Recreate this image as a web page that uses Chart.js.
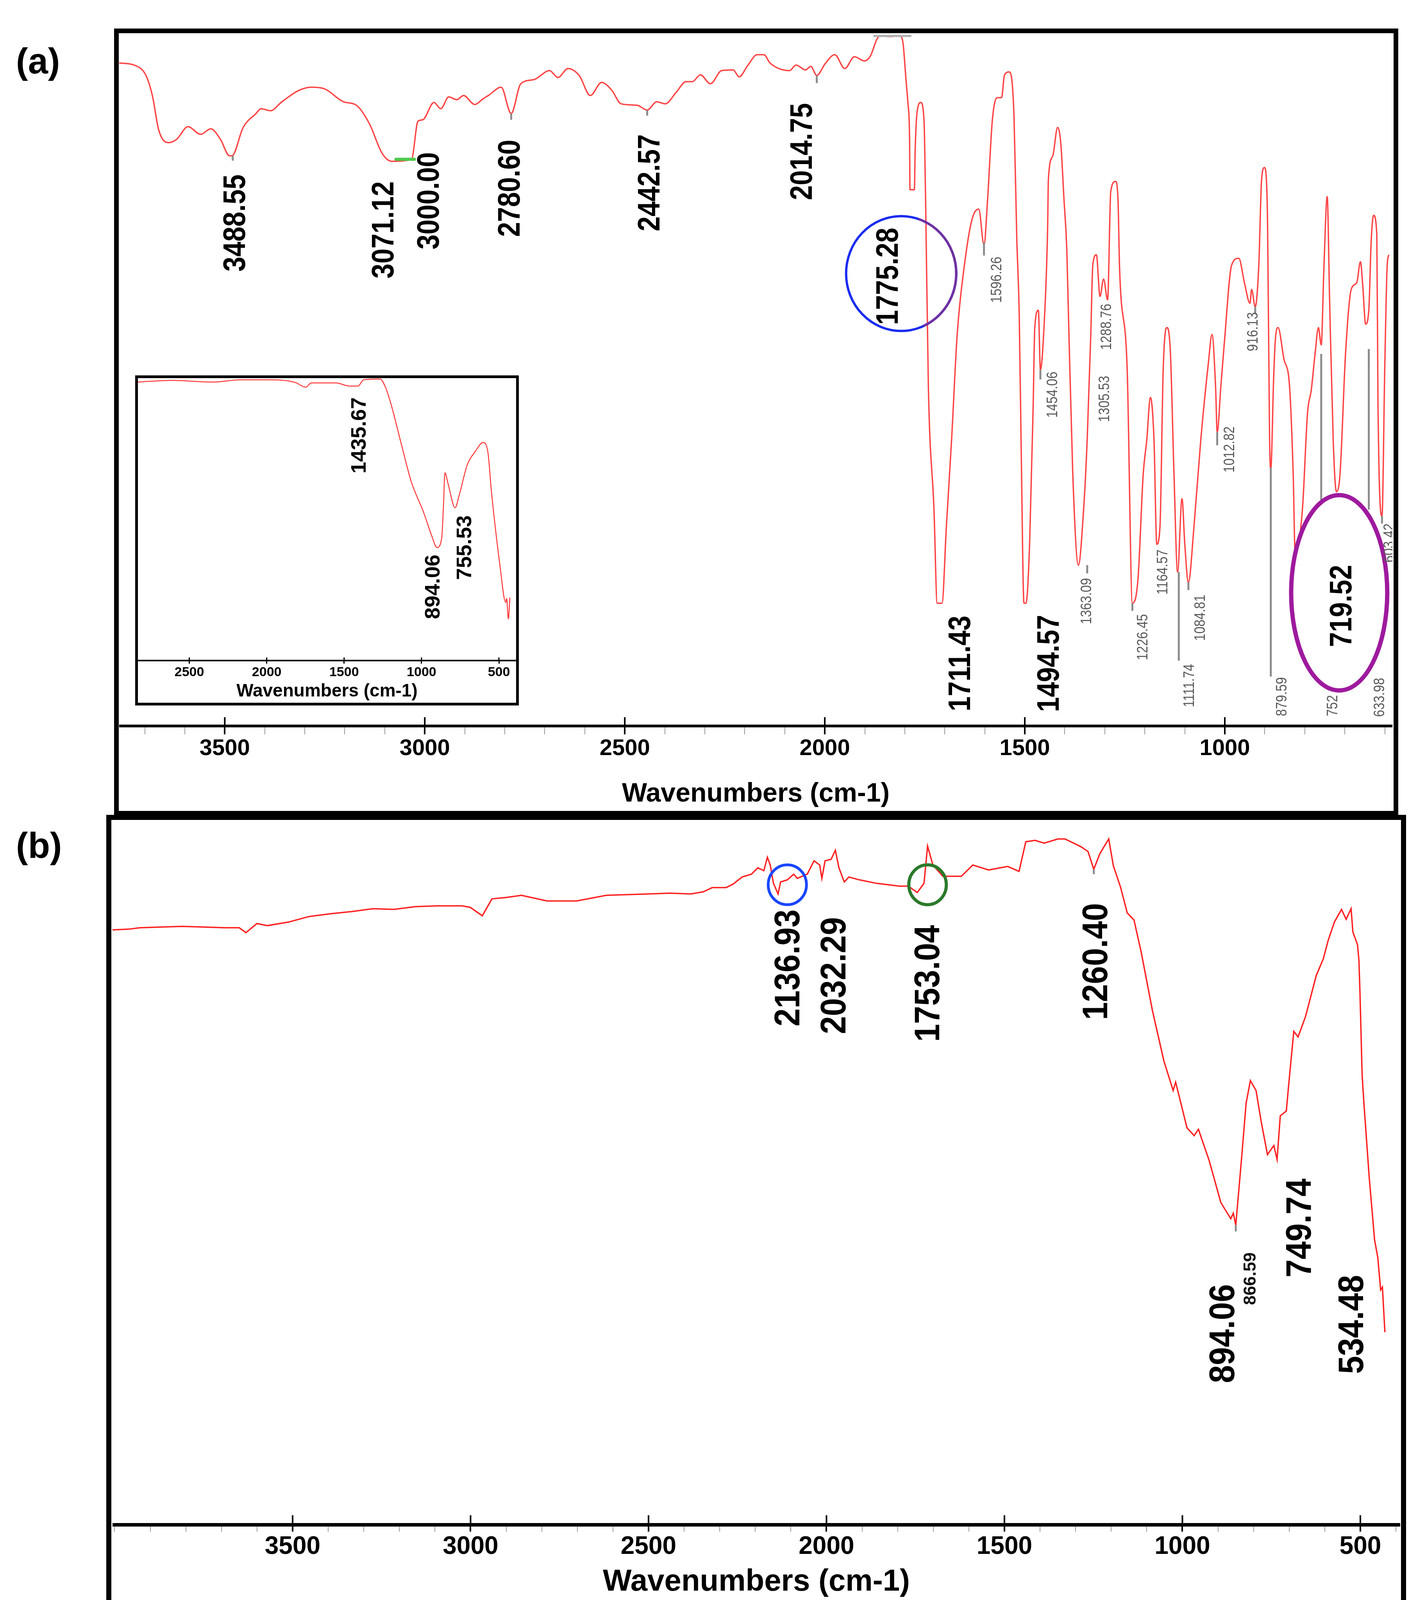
<!DOCTYPE html>
<html><head><meta charset="utf-8">
<script src="https://cdn.jsdelivr.net/npm/chart.js@4.4.0/dist/chart.umd.min.js"></script>
<style>
html,body{margin:0;padding:0;background:#fff;}
body{width:3650px;height:4158px;position:relative;overflow:hidden;font-family:"Liberation Sans",Arial,sans-serif;}
canvas{position:absolute;display:block;}
.frame{position:absolute;box-sizing:border-box;border:solid #000;pointer-events:none;}
.plabel{position:absolute;font-weight:bold;font-size:92px;line-height:1;color:#000;}
</style></head><body>
<div class="plabel" style="left:41px;top:110px;">(a)</div>
<div class="plabel" style="left:41px;top:2118px;">(b)</div>
<canvas id="ca" style="left:305px;top:85px;" width="3259" height="2003"></canvas>
<div style="position:absolute;left:346px;top:961px;width:982px;height:845px;background:#fff;"></div>
<canvas id="ci" style="left:353px;top:968px;" width="968" height="831"></canvas>
<div class="frame" style="left:346px;top:961px;width:982px;height:845px;border-width:7px;"></div>
<canvas id="cb" style="left:288px;top:2099px;" width="3296" height="2009"></canvas>
<div class="frame" style="left:292px;top:73px;width:3287px;height:2015px;border-width:12px;"></div>
<div class="frame" style="left:272px;top:2086px;width:3327px;height:2037px;border-width:13px;"></div>
<script>
const FONT = '"Liberation Sans", Arial, sans-serif';

// ---------- Panel (a): main spectrum ----------
const waveA = [3764,3722,3697,3681,3665,3641,3620,3592,3560,3535,3511,3488,3482,3454,3422,3409,3386,3357,3316,3284,3252,3203,3171,3139,3106,3082,3033,3017,3005,2977,2960,2940,2920,2903,2875,2855,2841,2809,2784,2760,2727,2688,2667,2642,2614,2586,2558,2533,2509,2469,2444,2420,2399,2371,2347,2331,2311,2286,2258,2229,2214,2193,2169,2152,2137,2088,2072,2048,2035,2020,1999,1975,1950,1926,1901,1886,1869,1860,1837,1813,1805,1797,1792,1788,1787,1776,1774,1769,1760,1752,1748,1741,1727,1719,1707,1696,1683,1669,1651,1632,1615,1602,1593,1581,1569,1558,1551,1539,1527,1520,1514,1509,1502,1497,1488,1479,1475,1466,1461,1452,1443,1441,1430,1418,1410,1402,1395,1391,1380,1366,1353,1344,1335,1330,1321,1312,1303,1293,1285,1273,1267,1263,1244,1231,1217,1204,1195,1186,1177,1170,1162,1154,1145,1136,1127,1118,1107,1100,1091,1077,1060,1041,1032,1023,1019,1010,1001,983,965,951,937,933,924,915,908,901,896,893,888,885,878,874,867,852,838,829,824,806,793,784,774,766,759,752,744,738,729,721,712,698,684,670,661,655,648,640,634,628,620,617,607,600,594,590];
const transA = [95.7,95.3,93.9,91.0,86.0,84.2,84.7,86.5,85.4,86.2,84.7,82.3,82.3,86.4,88.4,89.1,88.8,90.1,91.7,92.2,92.0,90.1,89.6,87.0,82.6,81.5,81.8,87.3,87.5,90.0,89.1,90.8,90.4,91.0,89.7,90.5,91.0,92.2,88.4,92.7,93.3,94.6,93.6,94.9,93.9,91.0,92.9,91.8,89.8,89.6,88.9,90.1,89.8,91.5,93.0,93.0,94.0,92.7,94.6,94.7,93.7,95.3,96.9,96.9,95.7,94.6,95.4,94.7,95.2,93.9,95.6,96.9,94.9,96.6,96.0,96.7,99.2,99.6,99.5,99.6,98.8,93.3,89.8,84.7,77.4,77.4,83.2,88.7,90.0,87.5,76.0,48.9,31.2,17.7,17.7,28.8,41.3,56.5,66.5,73.1,74.6,69.4,76.0,87.5,90.7,90.7,93.9,94.4,88.1,70.3,59.7,40.0,17.7,17.7,26.2,46.4,57.5,60.0,51.4,57.5,71.6,78.9,82.3,86.4,84.1,76.0,68.8,59.7,36.3,23.2,31.2,41.3,56.5,66.5,68.0,62.0,64.5,61.5,77.2,78.6,76.0,66.0,51.4,17.7,21.2,36.3,41.3,47.4,41.3,26.2,28.8,51.4,57.5,53.9,36.3,22.2,32.8,26.2,20.7,28.8,41.3,52.4,56.5,48.9,42.4,48.9,55.4,66.5,67.5,64.0,61.0,63.0,60.5,66.5,78.9,80.6,78.9,72.3,41.3,37.0,50.0,55.4,57.5,52.9,48.9,36.3,24.7,31.2,45.3,48.4,53.9,57.5,55.0,66.5,76.4,61.5,41.3,33.8,36.3,53.9,63.0,64.0,67.0,63.5,58.0,60.0,70.0,73.7,71.0,46.4,30.3,52.0,66.5,68.0];
const majorTicksA = [3500,3000,2500,2000,1500,1000];

// ---------- Inset of panel (a) ----------
const waveI = [2832,2613,2346,2170,1994,1817,1747,1712,1553,1465,1410,1374,1268,1233,1198,1127,1066,986,933,900,870,858,849,828,783,758,705,652,602,572,547,494,456,450,439,429];
const transI = [98.6,99.2,98.6,99.4,99.4,98.5,96.8,98.3,98.3,97.2,97.2,99.4,99.7,96.8,91.0,75.9,63.3,52.4,44.0,40.0,43.2,55.0,66.5,62.5,54.1,58.2,69.2,74.1,77.2,74.1,59.1,34.0,20.6,22.0,14.7,22.3];
const majorTicksI = [2500,2000,1500,1000,500];

// ---------- Panel (b) ----------
const waveB = [4006,3960,3929,3870,3810,3750,3691,3650,3631,3600,3571,3512,3453,3392,3333,3274,3215,3155,3095,3024,3001,2967,2940,2900,2857,2785,2702,2619,2560,2500,2440,2381,2346,2321,2282,2262,2237,2211,2193,2176,2166,2158,2149,2136,2129,2110,2092,2082,2054,2035,2019,2013,2004,1987,1975,1965,1950,1937,1908,1859,1795,1770,1745,1726,1716,1701,1673,1621,1589,1544,1491,1459,1440,1414,1388,1350,1330,1285,1265,1249,1232,1207,1194,1174,1155,1136,1116,1084,1052,1026,1019,987,967,955,925,892,864,857,850,833,821,809,793,779,761,743,734,725,708,701,687,675,654,624,604,591,573,553,540,526,521,508,504,501,495,490,475,460,451,443,438,431];
const transB = [84.4,84.5,84.7,84.8,84.9,84.8,84.7,84.7,84.0,85.3,85.0,85.5,86.3,86.7,87.0,87.4,87.3,87.7,87.8,87.8,87.6,86.4,88.8,89.0,89.3,88.5,88.5,89.3,89.4,89.5,89.6,89.5,89.8,90.4,90.4,90.9,91.9,92.3,93.2,92.8,94.7,93.6,91.0,89.5,91.2,91.5,92.3,91.7,92.3,94.2,93.6,91.7,94.2,94.4,95.7,93.2,91.2,91.9,91.5,91.0,90.6,90.6,89.7,91.0,96.3,93.6,92.0,92.0,93.6,92.9,93.4,92.7,96.9,97.1,96.7,97.3,97.3,96.2,95.5,93.0,95.2,97.3,93.5,90.5,86.8,85.8,81.3,72.9,65.8,61.6,62.8,56.3,55.2,56.1,51.7,45.7,43.4,44.2,42.5,52.4,59.8,63.0,61.6,57.3,52.5,53.8,51.8,58.0,58.7,62.6,70.0,69.2,72.1,77.9,80.3,82.8,85.5,87.3,85.9,87.4,84.1,82.3,80.1,75.4,63.8,59.8,49.2,40.4,37.9,33.3,33.7,27.3];
const majorTicksB = [3500,3000,2500,2000,1500,1000,500];

// ---------- Peak annotations (label text + anchor in axis units) ----------
const annotA = {
  labels: [
    {t:'3488.55',x:3471,y:72.6},{t:'3071.12',x:3100,y:71.6},{t:'3000.00',x:2987,y:75.8},
    {t:'2780.60',x:2784,y:77.6},{t:'2442.57',x:2435,y:78.4},{t:'2014.75',x:2054,y:82.9},
    {t:'1775.28',x:1839,y:64.9},{t:'1711.43',x:1658,y:9.0},{t:'1494.57',x:1437,y:9.0},
    {t:'719.52',x:705,y:17.3}
  ],
  small: [
    {t:'1596.26',x:1569,y:64.4},{t:'1454.06',x:1429,y:47.8},{t:'1305.53',x:1299,y:47.2},
    {t:'1288.76',x:1294,y:57.6},{t:'1363.09',x:1344,y:18.0},{t:'1226.45',x:1204,y:12.8},
    {t:'1164.57',x:1154,y:22.2},{t:'1111.74',x:1087,y:5.8},{t:'1084.81',x:1060,y:15.6},
    {t:'1012.82',x:987,y:39.9},{t:'916.13',x:928,y:56.9},{t:'879.59',x:856,y:4.2},
    {t:'752',x:729,y:2.9},{t:'633.98',x:612,y:4.1},{t:'603.42',x:587,y:26.4}
  ],
  vlines: [
    {x:885,y1:37.3,y2:7.1},{x:1115,y1:22.2,y2:9.4},{x:759,y1:53.7,y2:32.3},{x:640,y1:54.4,y2:31.2},
    {x:1602,y1:69.8,y2:67.9},{x:2784,y1:88.4,y2:87.5},{x:2444,y1:88.9,y2:88.1},{x:2020,y1:93.9,y2:92.8},
    {x:3480,y1:82.3,y2:81.6},{x:1231,y1:17.7,y2:16.6},{x:1344,y1:23.2,y2:22.0},{x:1091,y1:20.7,y2:19.6},
    {x:1019,y1:42.4,y2:40.5},{x:924,y1:60.5,y2:59.4},{x:607,y1:30.3,y2:29.2},{x:1461,y1:51.4,y2:50.0}
  ],
  hlines: [
    {x1:3072,x2:3026,y:81.8,c:'#4fc94f',lw:8},
    {x1:1876,x2:1786,y:99.6,c:'#b4b4b4',lw:6}
  ],
  ellipses: [
    {x:1809,y:65.3,rx:141,ry:147,c:'#1a2cf0',lw:6},
    {x:1809,y:65.3,rx:141,ry:147,c:'#7030a0',lw:6,a0:-1.25,a1:1.15},
    {x:714,y:19.2,rx:123,ry:250,c:'#9e1a9e',lw:11}
  ]
};
const annotI = {
  labels: [{t:'1435.67',x:1399,y:79.7},{t:'894.06',x:921,y:26.1},{t:'755.53',x:717,y:40.0}]
};
const annotB = {
  labels: [
    {t:'2136.93',x:2104,y:79.0},{t:'2032.29',x:1974,y:77.9},{t:'1753.04',x:1710,y:76.8},
    {t:'1260.40',x:1239,y:79.9},{t:'894.06',x:882,y:27.1},{t:'749.74',x:667,y:42.1},{t:'534.48',x:519,y:28.4}
  ],
  small: [{t:'866.59',x:808,y:34.9}],
  vlines: [{x:1249,y1:93.0,y2:92.3},{x:850,y1:42.5,y2:41.6}],
  ellipses: [
    {x:2110,y:90.8,rx:49,ry:51,c:'#1846ff',lw:7},
    {x:1716,y:90.8,rx:48,ry:51,c:'#2b7a2b',lw:8}
  ]
};

function annotPlugin(cfg, style) {
  return {
    id: 'annot',
    afterDatasetsDraw(chart) {
      const ctx = chart.ctx, xs = chart.scales.x, ys = chart.scales.y;
      ctx.save();
      (cfg.vlines || []).forEach(l => {
        const px = xs.getPixelForValue(l.x);
        ctx.strokeStyle = '#8c8c8c'; ctx.lineWidth = 5;
        ctx.beginPath(); ctx.moveTo(px, ys.getPixelForValue(l.y1)); ctx.lineTo(px, ys.getPixelForValue(l.y2)); ctx.stroke();
      });
      (cfg.hlines || []).forEach(l => {
        const py = ys.getPixelForValue(l.y);
        ctx.strokeStyle = l.c; ctx.lineWidth = l.lw; ctx.lineCap = 'round';
        ctx.beginPath(); ctx.moveTo(xs.getPixelForValue(l.x1), py); ctx.lineTo(xs.getPixelForValue(l.x2), py); ctx.stroke();
      });
      ctx.lineCap = 'butt';
      (cfg.ellipses || []).forEach(e => {
        ctx.strokeStyle = e.c; ctx.lineWidth = e.lw;
        ctx.beginPath();
        ctx.ellipse(xs.getPixelForValue(e.x), ys.getPixelForValue(e.y), e.rx, e.ry, 0,
          e.a0 !== undefined ? e.a0 : 0, e.a1 !== undefined ? e.a1 : Math.PI * 2);
        ctx.stroke();
      });
      const drawLbl = (l, st) => {
        ctx.save();
        ctx.translate(xs.getPixelForValue(l.x), ys.getPixelForValue(l.y));
        ctx.rotate(-Math.PI / 2);
        ctx.scale(st.k, 1);
        ctx.font = st.weight + ' ' + st.size + 'px ' + FONT;
        ctx.fillStyle = st.color;
        ctx.textAlign = 'center'; ctx.textBaseline = 'middle';
        ctx.fillText(l.t, 0, 0);
        ctx.restore();
      };
      (cfg.labels || []).forEach(l => drawLbl(l, style.big));
      (cfg.small || []).forEach(l => drawLbl(l, style.small));
      ctx.restore();
    },
    afterDraw(chart) {
      const ctx = chart.ctx, xs = chart.scales.x, ab = chart.chartArea.bottom;
      ctx.save();
      ctx.strokeStyle = '#000'; ctx.lineWidth = style.majorW;
      style.majors.forEach(v => {
        const px = xs.getPixelForValue(v);
        ctx.beginPath(); ctx.moveTo(px, ab - style.upTick); ctx.lineTo(px, ab); ctx.stroke();
      });
      ctx.restore();
    }
  };
}

function tickList(min, max, step) {
  const out = [];
  for (let v = Math.ceil(min / step) * step; v <= max; v += step) out.push(v);
  return out;
}

function makeChart(id, wave, trans, o) {
  const ticksAll = tickList(o.min, o.max, o.step);
  const isMajor = v => o.majors.includes(v);
  const ds = {
    data: wave.map((w, i) => ({ x: w, y: trans[i] })),
    borderColor: o.color, borderWidth: o.lw, pointRadius: 0, fill: false, tension: 0
  };
  if (o.smooth) { ds.cubicInterpolationMode = 'monotone'; ds.tension = 0.4; }
  return new Chart(document.getElementById(id), {
    type: 'line',
    data: { datasets: [ds] },
    options: {
      responsive: false, animation: false, devicePixelRatio: 1, events: [],
      layout: { padding: 0 },
      plugins: { legend: { display: false }, tooltip: { enabled: false }, title: { display: false } },
      scales: {
        x: {
          type: 'linear', reverse: true, min: o.min, max: o.max, position: 'bottom',
          afterBuildTicks: s => { s.ticks = ticksAll.map(v => ({ value: v })); },
          afterFit: s => { s.height = o.axisH; },
          ticks: {
            autoSkip: false, maxRotation: 0, minRotation: 0, padding: o.tickPad, color: '#000',
            font: { family: FONT, size: o.tickSize, weight: 'bold' },
            callback: v => isMajor(v) ? String(v) : ''
          },
          grid: {
            display: true, drawOnChartArea: false, drawTicks: true, tickLength: o.tickLen,
            color: c => (c.tick && isMajor(c.tick.value)) ? '#000' : '#9a9a9a',
            lineWidth: c => (c.tick && isMajor(c.tick.value)) ? o.majorW : o.minorW
          },
          border: { display: true, color: '#000', width: o.axisW },
          title: {
            display: true, text: 'Wavenumbers (cm-1)', color: '#000',
            font: { family: FONT, size: o.titleSize, weight: 'bold' },
            padding: { top: 0, bottom: o.titlePad }
          }
        },
        y: { display: false, min: 0, max: 100 }
      }
    },
    plugins: [annotPlugin(o.annot, {
      majors: o.majors, majorW: o.majorW, upTick: o.upTick,
      big: o.big, small: o.small
    })]
  });
}

makeChart('ca', waveA, transA, {
  min: 581, max: 3764, step: 100, majors: majorTicksA, color: '#ff4444', lw: 3.5, smooth: true,
  axisH: 230, tickPad: 2, tickLen: 22, tickSize: 58, titleSize: 68, titlePad: 14,
  majorW: 4, minorW: 2, axisW: 7, upTick: 22, annot: annotA,
  big: { size: 80, k: 0.86, weight: 'bold', color: '#000' },
  small: { size: 38, k: 0.86, weight: 'normal', color: '#5a5a5a' }
});
makeChart('ci', waveI, transI, {
  min: 389, max: 2832, step: 500, majors: majorTicksI, color: '#ff3a3a', lw: 2.5, smooth: true,
  axisH: 108, tickPad: 2, tickLen: 8, tickSize: 34, titleSize: 46, titlePad: 1,
  majorW: 3, minorW: 2, axisW: 4, upTick: 8, annot: annotI,
  big: { size: 54, k: 1.0, weight: 'bold', color: '#000' },
  small: { size: 30, k: 1.0, weight: 'normal', color: '#5a5a5a' }
});
makeChart('cb', waveB, transB, {
  min: 388, max: 4006, step: 100, majors: majorTicksB, color: '#ff2020', lw: 3.5, smooth: false,
  axisH: 205, tickPad: 1, tickLen: 18, tickSize: 64, titleSize: 78, titlePad: 11,
  majorW: 4, minorW: 2, axisW: 9, upTick: 24, annot: annotB,
  big: { size: 90, k: 0.92, weight: 'bold', color: '#000' },
  small: { size: 44, k: 1.0, weight: 'bold', color: '#111' }
});
</script>
</body></html>
